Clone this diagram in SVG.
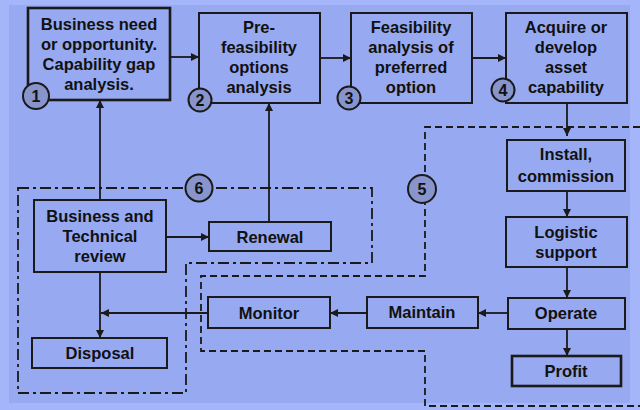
<svg xmlns="http://www.w3.org/2000/svg" width="640" height="410" viewBox="0 0 640 410">
<defs>
<style>
.box{fill:none;stroke:#1a1a1a;stroke-width:2}
.thick{stroke-width:2.6}
.t{font-family:"Liberation Sans",Arial,sans-serif;font-weight:bold;font-size:16.5px;fill:#111;text-anchor:middle}
.num{font-family:"Liberation Sans",Arial,sans-serif;font-weight:bold;font-size:16px;fill:#111;text-anchor:middle}
.circ{fill:#8894cc;stroke:#1a1a1a;stroke-width:2}
.con{fill:none;stroke:#1a1a1a;stroke-width:1.8}
.r6{fill:none;stroke:#1a1a1a;stroke-width:1.8;stroke-dasharray:11 4 3 4}
.r5{fill:none;stroke:#1a1a1a;stroke-width:1.8;stroke-dasharray:7 4}
</style>
<marker id="ah" viewBox="0 0 10 10" refX="10" refY="5" markerWidth="9" markerHeight="8" markerUnits="userSpaceOnUse" orient="auto">
<path d="M0,0 L10,5 L0,10 z" fill="#1a1a1a"/>
</marker>
</defs>
<rect x="0" y="0" width="640" height="410" fill="#a5b5fa"/>
<rect x="9" y="5" width="621" height="398" fill="#97a9f0"/>

<g id="regions">
<path class="r6" d="M18,188 H372 V263 H186 V393 H18 Z"/>
<path class="r5" d="M640,127 H425 V276 H201 V351 H425 V406 H640"/>
</g>

<g id="connectors">
<line class="con" x1="170" y1="57" x2="199" y2="57" marker-end="url(#ah)"/>
<line class="con" x1="320" y1="58" x2="351" y2="58" marker-end="url(#ah)"/>
<line class="con" x1="472" y1="58" x2="506" y2="58" marker-end="url(#ah)"/>
<line class="con" x1="567" y1="103" x2="567" y2="136" marker-end="url(#ah)"/>
<line class="con" x1="567" y1="191" x2="567" y2="217" marker-end="url(#ah)"/>
<line class="con" x1="567" y1="267" x2="567" y2="298" marker-end="url(#ah)"/>
<line class="con" x1="567" y1="329" x2="567" y2="356" marker-end="url(#ah)"/>
<line class="con" x1="508" y1="313" x2="478" y2="313" marker-end="url(#ah)"/>
<line class="con" x1="367" y1="313" x2="330" y2="313" marker-end="url(#ah)"/>
<line class="con" x1="208" y1="313" x2="101" y2="313" marker-end="url(#ah)"/>
<line class="con" x1="100" y1="272" x2="100" y2="338" marker-end="url(#ah)"/>
<line class="con" x1="100" y1="200" x2="100" y2="100" marker-end="url(#ah)"/>
<line class="con" x1="166" y1="237" x2="209" y2="237" marker-end="url(#ah)"/>
<line class="con" x1="269" y1="222" x2="269" y2="103" marker-end="url(#ah)"/>
</g>

<g id="n1">
<rect class="box thick" x="28" y="8" width="142" height="92"/>
<text class="t" x="99" y="30">Business need</text>
<text class="t" x="99" y="50">or opportunity.</text>
<text class="t" x="99" y="70">Capability gap</text>
<text class="t" x="99" y="90">analysis.</text>
<circle class="circ" cx="36" cy="96" r="13"/>
<text class="num" x="36" y="102">1</text>
</g>

<g id="n2">
<rect class="box" x="199" y="13" width="121" height="90"/>
<text class="t" x="259" y="33">Pre-</text>
<text class="t" x="259" y="53">feasibility</text>
<text class="t" x="259" y="73">options</text>
<text class="t" x="259" y="93">analysis</text>
<circle class="circ" cx="200" cy="100" r="11.5"/>
<text class="num" x="200" y="106">2</text>
</g>

<g id="n3">
<rect class="box" x="351" y="13" width="121" height="90"/>
<text class="t" x="411" y="33">Feasibility</text>
<text class="t" x="411" y="53">analysis of</text>
<text class="t" x="411" y="73">preferred</text>
<text class="t" x="411" y="93">option</text>
<circle class="circ" cx="349" cy="98" r="11.5"/>
<text class="num" x="349" y="104">3</text>
</g>

<g id="n4">
<rect class="box" x="506" y="13" width="121" height="90"/>
<text class="t" x="566" y="33">Acquire or</text>
<text class="t" x="566" y="53">develop</text>
<text class="t" x="566" y="73">asset</text>
<text class="t" x="566" y="93">capability</text>
<circle class="circ" cx="503" cy="90" r="11.5"/>
<text class="num" x="503" y="96">4</text>
</g>

<g id="n5label">
<circle class="circ" cx="422" cy="189" r="14"/>
<text class="num" x="422" y="195">5</text>
</g>

<g id="n6label">
<circle class="circ" cx="199" cy="188" r="13.5"/>
<text class="num" x="199" y="194">6</text>
</g>

<g id="install">
<rect class="box" x="507" y="140" width="118" height="51"/>
<text class="t" x="566" y="160">Install,</text>
<text class="t" x="566" y="182">commission</text>
</g>

<g id="logistic">
<rect class="box" x="506" y="217" width="121" height="50"/>
<text class="t" x="566" y="238">Logistic</text>
<text class="t" x="566" y="258">support</text>
</g>

<g id="operate">
<rect class="box" x="508" y="298" width="117" height="31"/>
<text class="t" x="566" y="319">Operate</text>
</g>

<g id="profit">
<rect class="box thick" x="512" y="356" width="109" height="30"/>
<text class="t" x="566" y="377">Profit</text>
</g>

<g id="maintain">
<rect class="box" x="367" y="297" width="111" height="31"/>
<text class="t" x="422" y="318">Maintain</text>
</g>

<g id="monitor">
<rect class="box" x="208" y="297" width="122" height="31"/>
<text class="t" x="269" y="319">Monitor</text>
</g>

<g id="review">
<rect class="box" x="34" y="200" width="132" height="72"/>
<text class="t" x="100" y="222">Business and</text>
<text class="t" x="100" y="242">Technical</text>
<text class="t" x="100" y="262">review</text>
</g>

<g id="renewal">
<rect class="box" x="209" y="222" width="122" height="29"/>
<text class="t" x="270" y="243">Renewal</text>
</g>

<g id="disposal">
<rect class="box" x="32" y="338" width="135" height="30"/>
<text class="t" x="100" y="359">Disposal</text>
</g>
</svg>
